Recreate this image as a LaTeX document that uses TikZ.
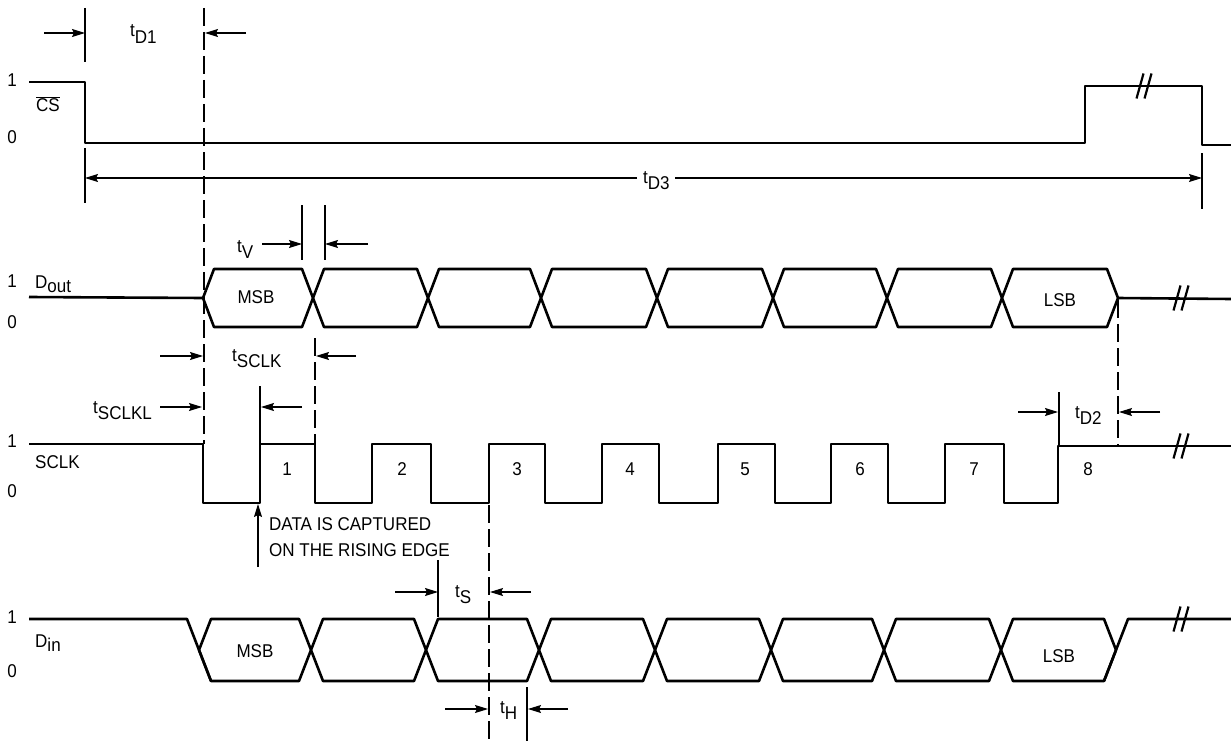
\documentclass[tikz,border=0pt]{standalone}
\usepackage{fontspec}
\setmainfont{Liberation Sans}[FakeStretch=0.92]
\usetikzlibrary{arrows.meta}
\newcommand\tlab[1]{t\raisebox{-6.5pt}{#1}}
\newcommand\sigsub[2]{#1\raisebox{-4pt}{#2}}
\newcommand\brkmark[2]{%
  \draw[brkline] ({#1-7.5},{#2+12.5}) -- ({#1-0.5},{#2-12.5});
  \draw[brkline] ({#1+0.5},{#2+12.5}) -- ({#1+7.5},{#2-12.5});}
\begin{document}
\begin{tikzpicture}[x=1pt,y=-1pt,
  sig/.style={line width=2.6pt, line join=round},
  dim/.style={line width=1.1pt},
  dsh/.style={line width=1.2pt, dash pattern=on 18pt off 6pt},
  arr/.style={line width=1.1pt, -{Stealth[length=13pt,width=8pt,inset=2pt]}},
  brkline/.style={line width=2.2pt},
  lbl/.style={font=\fontsize{18.5}{21}\selectfont, inner sep=0pt, anchor=base west},
  lblc/.style={font=\fontsize{18.5}{21}\selectfont, inner sep=0pt, anchor=base},
]
\useasboundingbox[fill=white] (0,0) rectangle (1231,741);

% ---------------- CS ----------------
\node[lblc] (cs1) at (12,87) {1};
\node[lblc] (csn) at (48,112) {$\overline{\mbox{CS}}$};
\node[lblc] (cs0) at (12,143) {0};
\draw[sig] (29,82) -- (85,82) -- (85,143) -- (1085,143) -- (1085,86) -- (1202,86) -- (1202,145) -- (1231,145);
\brkmark{1144}{86}

% tD1
\draw[dim] (85,8) -- (85,62);
\coordinate (d1a) at (44,33); \coordinate (d1b) at (85,33);
\coordinate (d1c) at (246,33); \coordinate (d1d) at (205,33);
\draw[arr] (d1a) -- (d1b);
\draw[arr] (d1c) -- (d1d);
\node[lbl] (tD1) at (130,37) {\tlab{D1}};
\draw[dsh] (204,8) -- (204,444);

% tD3
\draw[dim] (85,148) -- (85,203);
\draw[dim] (1202,153) -- (1202,209);
\node[lbl] (tD3) at (643,183) {\tlab{D3}};
\coordinate (d3l) at (85,178); \coordinate (d3r) at (1202,178);
\coordinate (d3gl) at (637,178); \coordinate (d3gr) at (675,178);
\draw[arr] (d3gl) -- (d3l);
\draw[arr] (d3gr) -- (d3r);

% ---------------- Dout ----------------
\node[lblc] (do1) at (12,287) {1};
\node[lbl] (don) at (35,288) {\sigsub{D}{out}};
\node[lblc] (do0) at (12,328) {0};
\draw[sig] (29,297) -- (203,298);
\foreach \a/\b in {203/313,313/428,428/541,541/657,657/773,773/887,887/1002,1002/1118}
  \draw[sig] (\a,298) -- (\a+11,269) -- (\b-11,269) -- (\b,298) -- (\b-11,327) -- (\a+11,327) -- cycle;
\draw[sig] (1118,298) -- (1231,299);
\brkmark{1181}{298}
\node[lblc] (domsb) at (256,303) {MSB};
\node[lblc] (dolsb) at (1060,306) {LSB};

% tV
\draw[dim] (302,205) -- (302,260);
\draw[dim] (325,205) -- (325,260);
\coordinate (tva) at (262,244); \coordinate (tvb) at (302,244);
\coordinate (tvc) at (368,244); \coordinate (tvd) at (325,244);
\draw[arr] (tva) -- (tvb);
\draw[arr] (tvc) -- (tvd);
\node[lbl] (tV) at (237,252) {\tlab{V}};

% tSCLK
\coordinate (tsa) at (160,356); \coordinate (tsb) at (203,356);
\coordinate (tsc) at (356,356); \coordinate (tsd) at (316,356);
\draw[arr] (tsa) -- (tsb);
\draw[arr] (tsc) -- (tsd);
\draw[dsh] (315,338) -- (315,444);
\node[lbl] (tSCLK) at (232,361) {\tlab{SCLK}};

% tSCLKL
\node[lbl] (tSCLKL) at (93,413) {\tlab{SCLKL}};
\coordinate (tla) at (160,407); \coordinate (tlb) at (202,407);
\coordinate (tlc) at (302,407); \coordinate (tld) at (261,407);
\draw[arr] (tla) -- (tlb);
\draw[arr] (tlc) -- (tld);
\draw[dim] (260,386) -- (260,444);

% ---------------- SCLK ----------------
\node[lblc] (sc1) at (12,447) {1};
\node[lbl] (scn) at (35,468) {SCLK};
\node[lblc] (sc0) at (12,497) {0};
\draw[sig] (29,444) -- (203,444) -- (203,503) -- (260,503) -- (260,444) -- (315,444) -- (315,503)
  -- (372,503) -- (372,444) -- (431,444) -- (431,503)
  -- (489,503) -- (489,444) -- (545,444) -- (545,503)
  -- (602,503) -- (602,444) -- (659,444) -- (659,503)
  -- (718,503) -- (718,444) -- (775,444) -- (775,503)
  -- (831,503) -- (831,444) -- (888,444) -- (888,503)
  -- (945,503) -- (945,444) -- (1004,444) -- (1004,503)
  -- (1058,503) -- (1058,446) -- (1231,446);
\brkmark{1181}{446}
\foreach \x/\n in {287/1,402/2,517/3,630/4,745/5,860/6,974/7,1088/8}
  \node[lblc] (p\n) at (\x,475) {\n};

% tD2
\draw[dim] (1059,392) -- (1059,446);
\draw[dsh] (1118,300) -- (1118,446);
\coordinate (t2a) at (1018,412); \coordinate (t2b) at (1058,412);
\coordinate (t2c) at (1160,412); \coordinate (t2d) at (1119,412);
\draw[arr] (t2a) -- (t2b);
\draw[arr] (t2c) -- (t2d);
\node[lbl] (tD2) at (1075,418) {\tlab{D2}};

% data captured
\coordinate (capa) at (258,567); \coordinate (capb) at (258,504);
\draw[arr] (capa) -- (capb);
\node[lbl] (cap1) at (269,530) {DATA IS CAPTURED};
\node[lbl] (cap2) at (269,556) {ON THE RISING EDGE};

% tS
\draw[dsh] (489,505) -- (489,741);
\draw[dim] (438,560) -- (438,617);
\coordinate (tsea) at (395,592); \coordinate (tseb) at (438,592);
\coordinate (tsec) at (531,592); \coordinate (tsed) at (490,592);
\draw[arr] (tsea) -- (tseb);
\draw[arr] (tsec) -- (tsed);
\node[lbl] (tS) at (455,597) {\tlab{S}};

% ---------------- Din ----------------
\node[lblc] (di1) at (12,623) {1};
\node[lbl] (din) at (35,647) {\sigsub{D}{in}};
\node[lblc] (di0) at (12,677) {0};
\draw[sig] (29,619) -- (187,619) -- (211,681);
\foreach \a/\b in {199/311,311/426,426/539,539/655,655/771,771/884,884/1001,1001/1116}
  \draw[sig] (\a,650) -- (\a+12,619) -- (\b-12,619) -- (\b,650) -- (\b-12,681) -- (\a+12,681) -- cycle;
\draw[sig] (1104,681) -- (1128,619) -- (1231,619);
\brkmark{1181}{619}
\node[lblc] (dimsb) at (255,657) {MSB};
\node[lblc] (dilsb) at (1059,662) {LSB};

% tH
\draw[dim] (527,687) -- (527,741);
\coordinate (tha) at (445,709); \coordinate (thb) at (488,709);
\coordinate (thc) at (568,709); \coordinate (thd) at (528,709);
\draw[arr] (tha) -- (thb);
\draw[arr] (thc) -- (thd);
\node[lbl] (tH) at (500,713) {\tlab{H}};
\end{tikzpicture}
\end{document}
